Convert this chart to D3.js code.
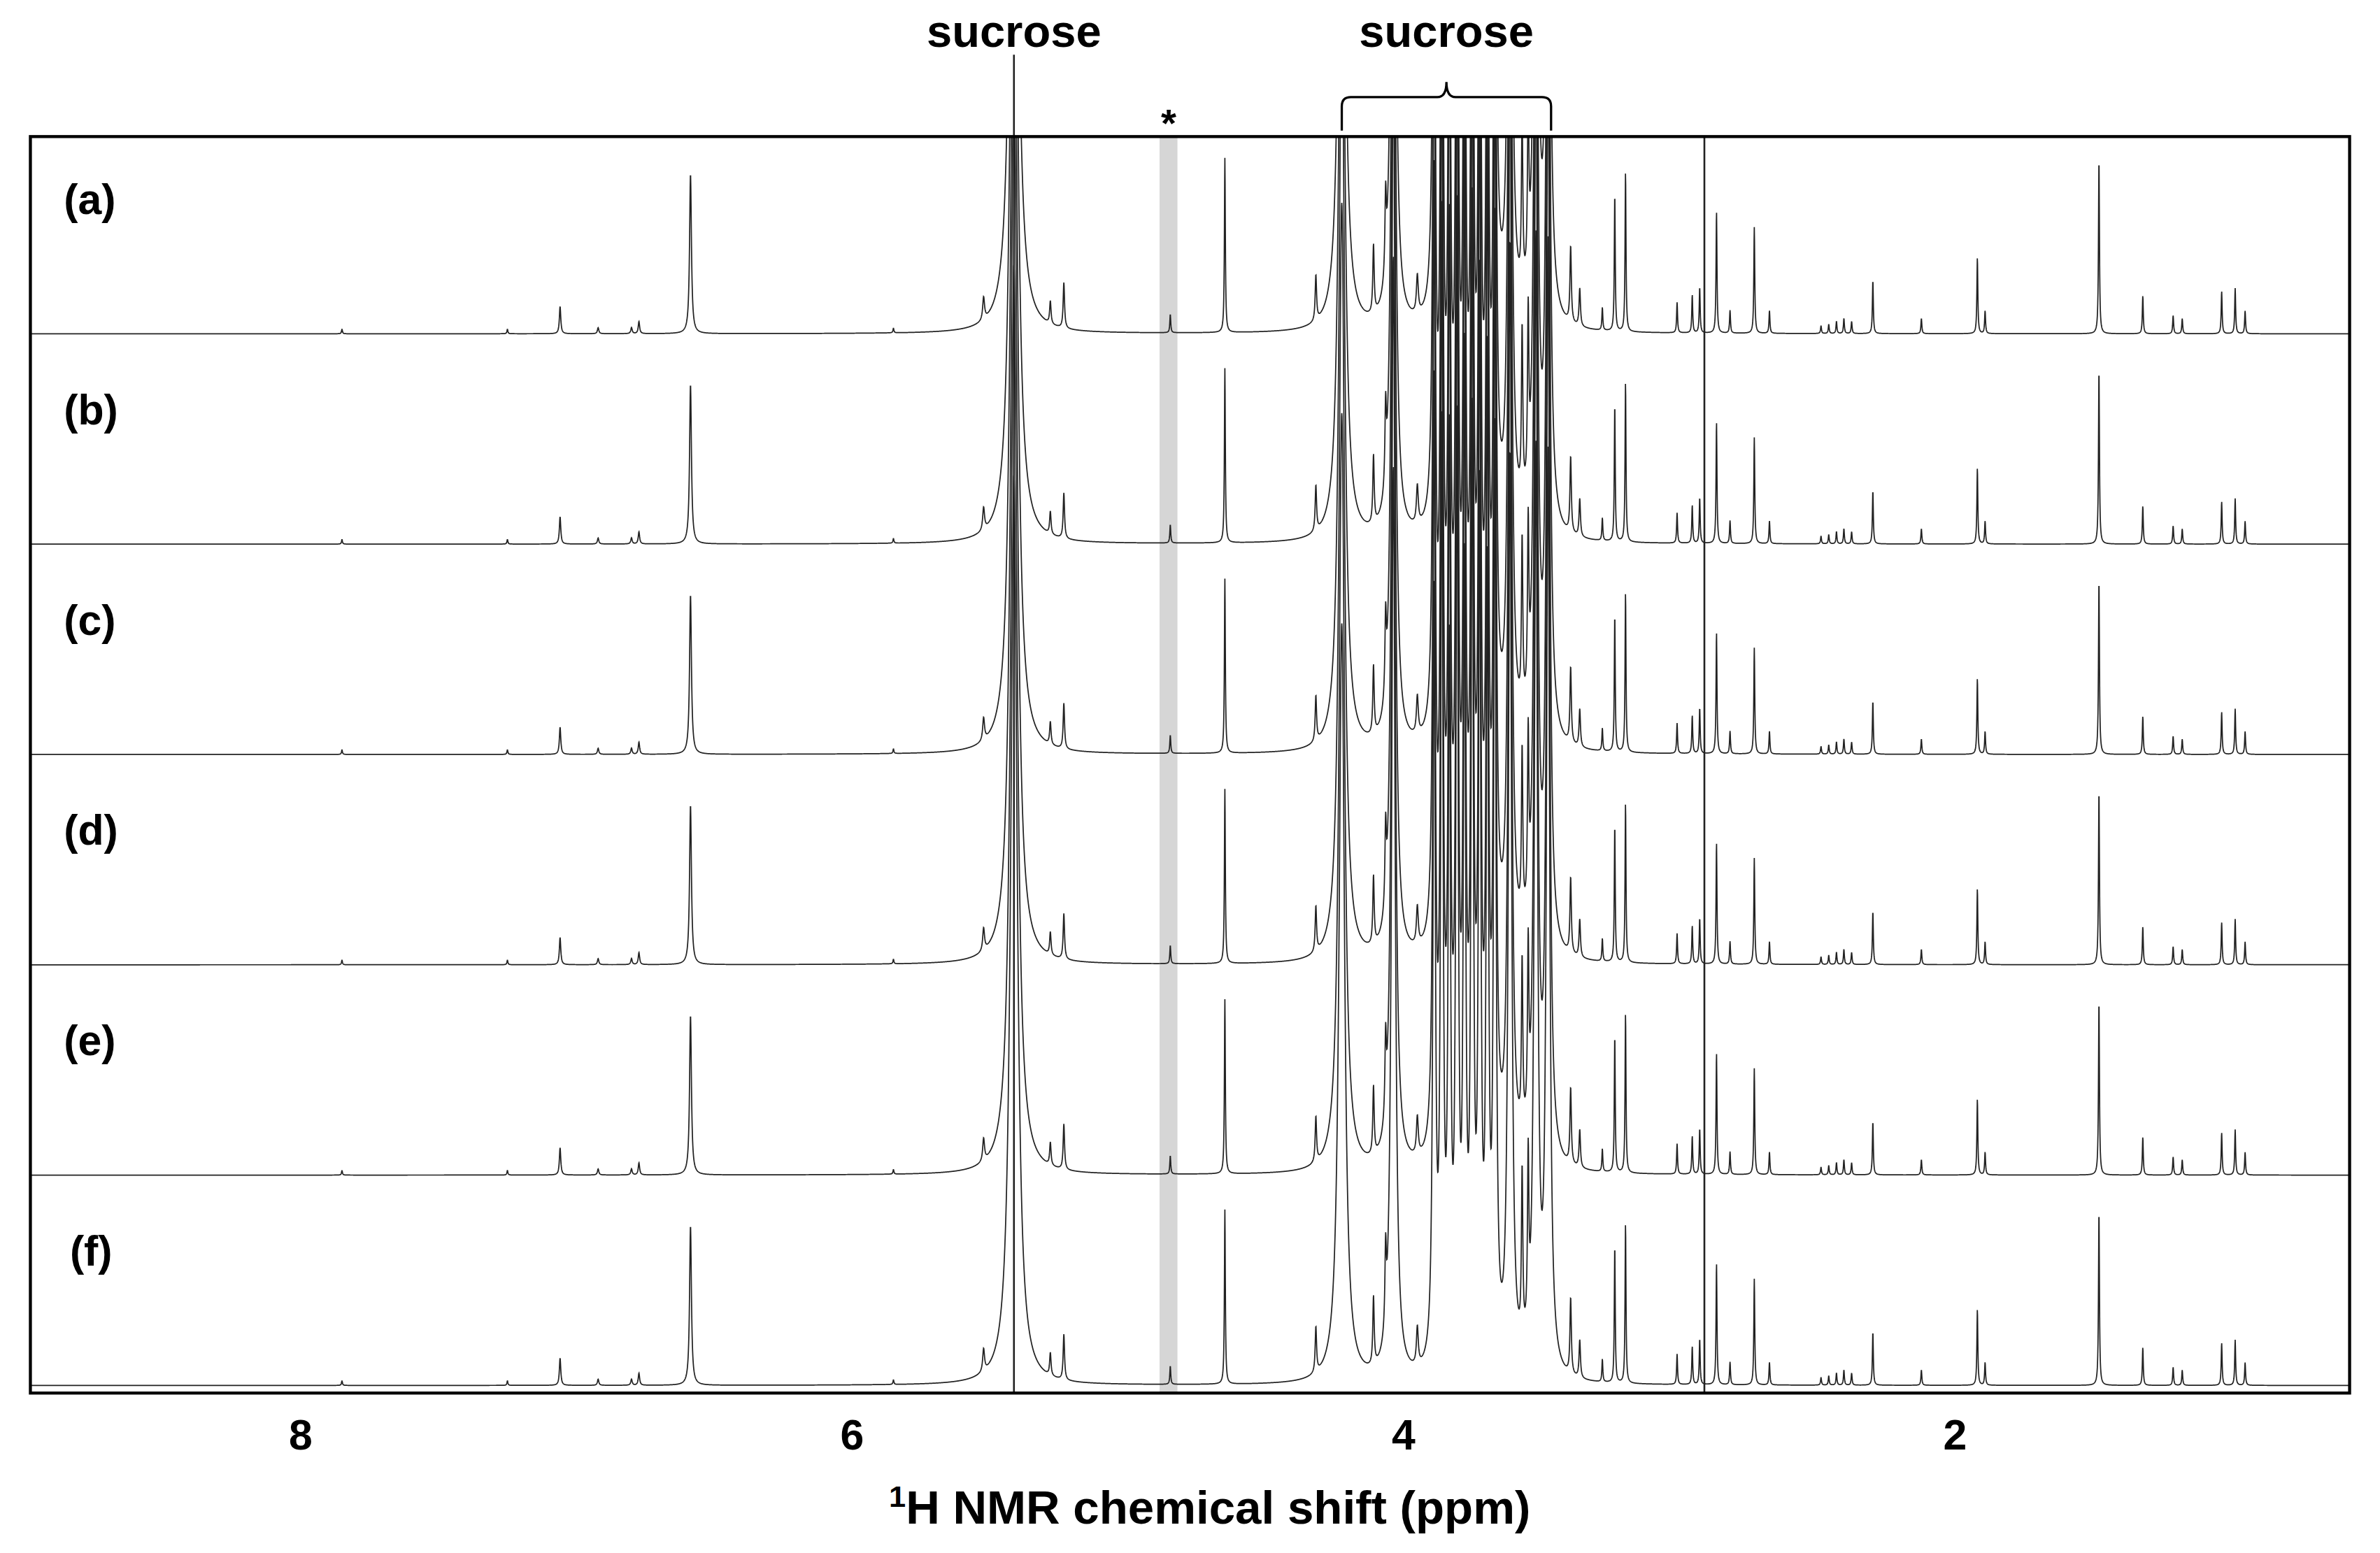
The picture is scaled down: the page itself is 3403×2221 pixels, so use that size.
<!DOCTYPE html>
<html><head><meta charset="utf-8">
<script src="https://cdn.jsdelivr.net/npm/d3@7"></script>
<style>body{margin:0;background:#fff}text{font-family:Arial,"Liberation Sans",sans-serif;font-weight:bold}</style>
</head><body>
<svg id="chart" width="3403" height="2221" viewBox="0 0 1568 1023.4"></svg>
<script>
// spectrum labels, one per trace
var traceLabels = ["(a)", "(b)", "(c)", "(d)", "(e)", "(f)"];
// peak positions (ppm), heights (px above baseline) and half widths (ppm)
var peakPpm = [7.059, 6.921, 6.80, 6.773, 6.586, 5.523, 5.413, 5.281, 5.232, 4.846, 4.648, 4.318, 4.224, 4.109, 4.065, 4.037,
  3.95, 3.889, 3.861, 3.834, 3.806, 3.779, 3.751, 3.724, 3.696, 3.669, 3.614, 3.570, 3.548, 3.520, 3.476,
  3.394, 3.361, 3.279, 3.234, 3.195, 3.008, 2.953, 2.926, 2.865, 2.816, 2.728, 2.673,
  2.486, 2.458, 2.43, 2.403, 2.375, 2.298, 2.122, 1.919, 1.891, 1.478, 1.319, 1.209, 1.176, 1.033, 0.984, 0.948,
  7.85, 7.25, 5.85];
var peakHeight = [18, 4, 4, 8, 105, 15, 600, 15, 30, 12, 115, 30, 500, 45, 50, 600,
  25, 500, 600, 450, 600, 500, 600, 550, 500, 600, 600, 110, 110, 600, 600,
  50, 25, 15, 90, 105, 20, 25, 30, 80, 15, 70, 15,
  5, 6, 8, 10, 8, 35, 10, 50, 15, 115, 25, 12, 10, 28, 30, 15,
  3, 3, 3];
var peakWidth = [0.003, 0.003, 0.003, 0.003, 0.004, 0.004, 0.014, 0.003, 0.003, 0.002, 0.002, 0.003, 0.012, 0.003, 0.003, 0.008,
  0.004, 0.005, 0.005, 0.005, 0.005, 0.005, 0.005, 0.005, 0.005, 0.005, 0.007, 0.003, 0.003, 0.007, 0.007,
  0.003, 0.003, 0.002, 0.002, 0.002, 0.002, 0.002, 0.002, 0.002, 0.002, 0.002, 0.002,
  0.002, 0.002, 0.002, 0.002, 0.002, 0.002, 0.002, 0.002, 0.002, 0.002, 0.002, 0.002, 0.002, 0.002, 0.002, 0.002,
  0.002, 0.002, 0.002];
var xTicks = [8, 6, 4, 2];

var svg = d3.select("#chart");
var boxL = 20, boxR = 1548, boxT = 90, boxB = 918;
var x = d3.scaleLinear().domain([8.98, 0.569]).range([boxL, boxR]);
var baselines = d3.range(6).map(i => 220 + i * 138.6);

svg.append("clipPath").attr("id", "box").append("rect")
  .attr("x", boxL).attr("y", boxT).attr("width", boxR - boxL).attr("height", boxB - boxT);

// gray band for solvent
svg.append("rect").attr("x", x(4.885)).attr("width", x(4.82) - x(4.885))
  .attr("y", boxT).attr("height", boxB - boxT).attr("fill", "#d6d6d6");

// spectra
var ppms = d3.range(8.98, 0.569, -0.0008);
function intensity(p) {
  var s = 0;
  for (var k = 0; k < peakPpm.length; k++) {
    var d = (p - peakPpm[k]) / peakWidth[k];
    s += peakHeight[k] / (1 + d * d);
  }
  return s;
}
var spec = ppms.map(p => [p, intensity(p)]);
var g = svg.append("g").attr("clip-path", "url(#box)");
baselines.forEach(function (b) {
  var line = d3.line().x(d => x(d[0])).y(d => b - d[1]);
  g.append("path").attr("d", line(spec)).attr("fill", "none")
    .attr("stroke", "#222").attr("stroke-width", 0.8);
});

// vertical reference lines
svg.append("line").attr("x1", x(5.413)).attr("x2", x(5.413)).attr("y1", 36).attr("y2", boxB)
  .attr("stroke", "#222").attr("stroke-width", 1.2);
svg.append("line").attr("x1", x(2.909)).attr("x2", x(2.909)).attr("y1", boxT).attr("y2", boxB)
  .attr("stroke", "#222").attr("stroke-width", 1.2);

// frame
svg.append("rect").attr("x", boxL).attr("y", boxT).attr("width", boxR - boxL).attr("height", boxB - boxT)
  .attr("fill", "none").attr("stroke", "#000").attr("stroke-width", 2);

// trace labels
traceLabels.forEach(function (t, i) {
  svg.append("text").attr("x", i == 5 ? 46 : 42).attr("y", 141 + i * 138.6).attr("font-size", 28).text(t);
});

// annotations
svg.append("text").attr("x", x(5.413)).attr("y", 31).attr("text-anchor", "middle").attr("font-size", 30).text("sucrose");
var bx1 = x(4.224), bx2 = x(3.465), bm = (bx1 + bx2) / 2;
svg.append("text").attr("x", bm).attr("y", 31).attr("text-anchor", "middle").attr("font-size", 30).text("sucrose");
svg.append("path").attr("d", `M${bx1},86 L${bx1},70 Q${bx1},64 ${bx1 + 6},64 L${bm - 6},64 Q${bm},64 ${bm},54 Q${bm},64 ${bm + 6},64 L${bx2 - 6},64 Q${bx2},64 ${bx2},70 L${bx2},86`)
  .attr("fill", "none").attr("stroke", "#000").attr("stroke-width", 1.5);
svg.append("text").attr("x", x(4.852)).attr("y", 90).attr("text-anchor", "middle").attr("font-size", 26).text("*");

// x axis
xTicks.forEach(function (t) {
  svg.append("text").attr("x", x(t)).attr("y", 955).attr("text-anchor", "middle").attr("font-size", 28).text(t);
});
var title = svg.append("text").attr("x", 797).attr("y", 1004).attr("text-anchor", "middle").attr("font-size", 31);
title.append("tspan").attr("font-size", 20).attr("dy", -11).text("1");
title.append("tspan").attr("dy", 11).text("H NMR chemical shift (ppm)");
</script>
</body></html>
